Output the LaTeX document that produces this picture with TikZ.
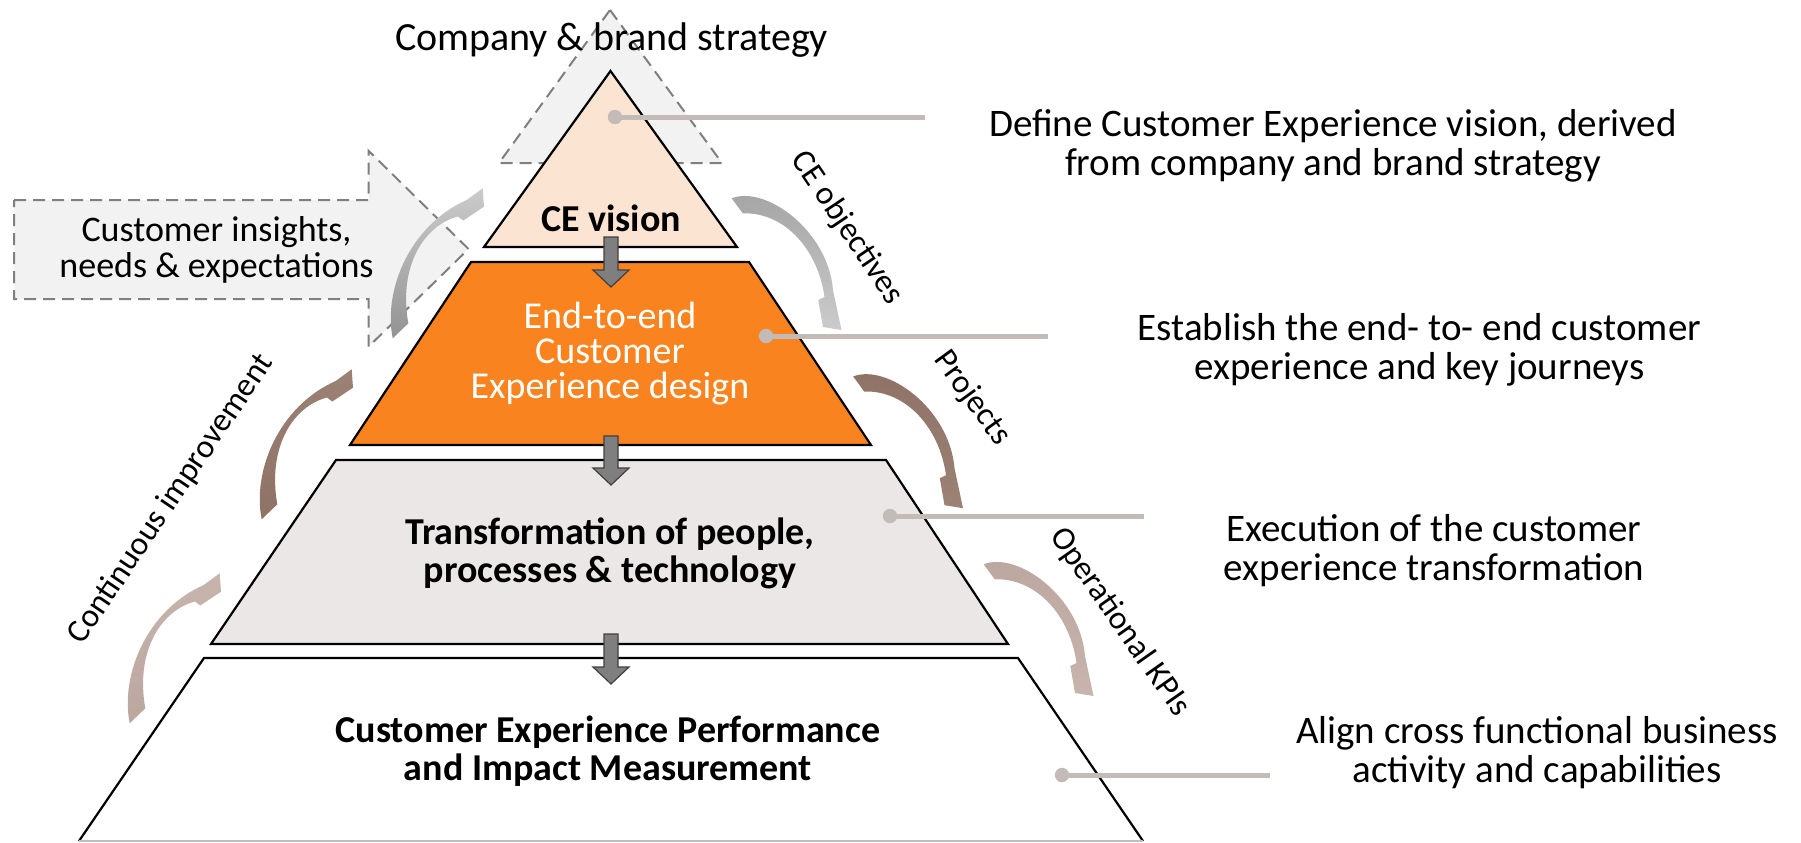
\documentclass[tikz,border=0pt]{standalone}
\usepackage{fontspec}
\setmainfont{Carlito}
\definecolor{dashfill}{HTML}{F2F2F2}
\definecolor{dashline}{HTML}{7F7F7F}
\definecolor{peach}{HTML}{FCE4D3}
\definecolor{orangeL}{HTML}{F9831F}
\definecolor{grayL}{HTML}{EBE7E6}
\definecolor{connc}{HTML}{C2BBB7}
\definecolor{darrow}{HTML}{7F7F7F}
\definecolor{brownD}{HTML}{8E7266}
\definecolor{brownDL}{HTML}{9C8175}
\definecolor{brownL}{HTML}{BCA79F}
\definecolor{grayA1}{HTML}{A3A3A3}
\definecolor{grayA2}{HTML}{CBCBCB}
\def\rarrowpath{(731.7,198.3) .. controls (765,185) and (828,230) .. (833,290) -- (841.5,330) -- (823,327) -- (818.3,300) -- (824.5,297) .. controls (818,250) and (785,212) .. (742.7,213.3) -- cycle}
\def\larrowpath{(392.7,338.3) .. controls (383,290) and (410,225) .. (466.7,200) -- (482.7,188.3) -- (484,206.7) -- (463.3,220.5) -- (458,216.5) .. controls (425,225) and (398,265) .. (408.3,323.3) -- cycle}
\begin{document}
\begin{tikzpicture}[x=0.5pt,y=-0.5pt,
  dashshape/.style={fill=dashfill,draw=dashline,line width=1pt,dash pattern=on 6pt off 3.5pt},
  layer/.style={draw=black,line width=1.1pt,line join=miter},
  downarr/.style={fill=darrow,draw=black!75,line width=0.6pt},
  conn/.style={draw=connc,line width=2.5pt},
  ptxt/.style={font=\fontsize{19}{19}\selectfont\bfseries,align=center,inner sep=0pt},
  rtxt/.style={font=\fontsize{19.5}{19.5}\selectfont,align=center,inner sep=0pt},
  rot/.style={font=\fontsize{16.5}{16.5}\selectfont,inner sep=0pt}]
\useasboundingbox (0,0) rectangle (1801,842);
% background dashed shapes
\path[dashshape] (610,10) -- (722,163) -- (499,163) -- cycle;
\path[dashshape] (14,200) -- (368.5,200) -- (368.5,150.7) -- (468.5,249) -- (368.5,346.7) -- (368.5,299) -- (14,299) -- cycle;
% pyramid layers
\path[layer,fill=peach] (610.5,71) -- (737,247) -- (484,247) -- cycle;
\path[layer,fill=orangeL] (471,262) -- (749,262) -- (871,445) -- (350,445) -- cycle;
\path[layer,fill=grayL] (336,460) -- (886,460) -- (1008,644) -- (211,644) -- cycle;
\path[fill=white] (204,658) -- (1018,658) -- (1143,841) -- (79,841) -- cycle;
\draw[layer] (79,841) -- (204,658) -- (1018,658) -- (1143,841);
\draw[draw=black!25,line width=0.8pt] (79,841) -- (1143,841);
% down block arrows
\path[downarr] (604,237) -- (618,237) -- (618,270) -- (629,270) -- (611,287) -- (593,270) -- (604,270) -- cycle;
\path[downarr] (604,436) -- (618,436) -- (618,468) -- (629,468) -- (611,485) -- (593,468) -- (604,468) -- cycle;
\path[downarr] (604,634) -- (618,634) -- (618,667) -- (629,667) -- (611,684) -- (593,667) -- (604,667) -- cycle;
% curved arrows right side
\shade[top color=grayA1,bottom color=grayA2] \rarrowpath;
\begin{scope}[shift={(121.5,178.2)}]
\shade[top color=brownD,bottom color=brownDL] \rarrowpath;
\end{scope}
\begin{scope}[shift={(252,366)}]
\shade[top color=brownL,bottom color=brownL!85!white] \rarrowpath;
\end{scope}
% curved arrows left side
\shade[bottom color=grayA1!90!black,top color=grayA2] \larrowpath;
\begin{scope}[shift={(-131,181)}]
\shade[bottom color=brownD,top color=brownDL] \larrowpath;
\end{scope}
\begin{scope}[shift={(-263,385)}]
\shade[bottom color=brownL,top color=brownL!85!white] \larrowpath;
\end{scope}
% connectors
\coordinate (d1) at (615,117);  \coordinate (e1) at (925,117);
\coordinate (d2) at (766,336);  \coordinate (e2) at (1048,336);
\coordinate (d3) at (890,516);  \coordinate (e3) at (1144,516);
\coordinate (d4) at (1062,775); \coordinate (e4) at (1270,775);
\foreach \i in {1,2,3,4}{
  \draw[conn] (d\i) -- (e\i);
  \fill[connc] (d\i) circle (3.6pt);
}
% texts
\node[font=\fontsize{20}{20}\selectfont,inner sep=0pt] (title) at (611.5,40) {Company \& brand strategy};
\node[font=\fontsize{18}{18}\selectfont,align=center,inner sep=0pt] (insights) at (216.5,250) {Customer insights,\\needs \& expectations};
\node[ptxt] (vision) at (611,218) {CE vision};
\node[ptxt,font=\fontsize{19}{17.5}\selectfont,text=white] (design) at (610,354) {End-to-end\\Customer\\Experience design};
\node[ptxt] (transf) at (610,553) {Transformation of people,\\processes \& technology};
\node[ptxt] (measure) at (608,751) {Customer Experience Performance\\and Impact Measurement};
\node[rtxt] (r1) at (1333,146) {Define Customer Experience vision, derived\\from company and brand strategy};
\node[rtxt] (r2) at (1419.5,350) {Establish the end- to- end customer\\experience and key journeys};
\node[rtxt] (r3) at (1434,551) {Execution of the customer\\experience transformation};
\node[rtxt] (r4) at (1537,753) {Align cross functional business\\activity and capabilities};
\node[rot,rotate=-56] (ceobj) at (847,228) {CE objectives};
\node[rot,rotate=-54] (proj) at (972,398) {Projects};
\node[rot,rotate=-55] (kpi) at (1120,622) {Operational KPIs};
\node[rot,rotate=56] (cont) at (171,499) {Continuous improvement};
\end{tikzpicture}
\end{document}
